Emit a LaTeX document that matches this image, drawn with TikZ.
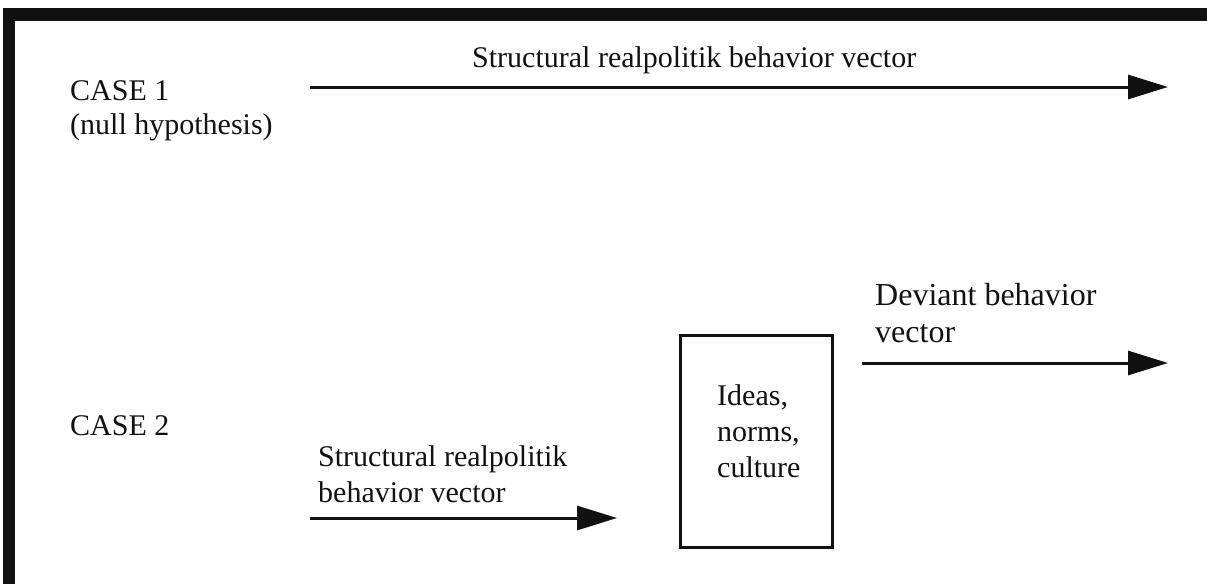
\documentclass[tikz,border=0pt]{standalone}
\usepackage{fontspec}
\setmainfont{Liberation Serif}
\usetikzlibrary{arrows.meta}
\definecolor{ink}{HTML}{111111}
\tikzset{
  label/.style={anchor=base west, inner sep=0pt, font=\fontsize{30}{36}\selectfont, text=ink, align=left},
  vector/.style={draw=ink, line width=3pt, -{Triangle[length=40pt,width=24pt]}},
  factorbox/.style={draw=ink, line width=3pt, minimum width=152pt, minimum height=212pt, inner sep=0pt}
}
\begin{document}
\begin{tikzpicture}[x=1pt, y=-1pt]
  \useasboundingbox (0,0) rectangle (1207,584);
  % frame bars along the top and left edges
  \fill[ink] (3,8) rectangle (1207,21);
  \fill[ink] (3,8) rectangle (15,584);

  % case labels
  \node[label] (case1) at (70,100) {CASE 1};
  \node[label] (null) at (70,134) {(null hypothesis)};
  \node[label] (case2) at (70,435) {CASE 2};

  % case 1: the structural vector runs straight through
  \coordinate (s1) at (310,87);
  \coordinate (e1) at (1168,87);
  \draw[vector] (s1) -- (e1);
  \node[label] (lab1) at (472,67) {Structural realpolitik behavior vector};

  % case 2: the structural vector meets the ideational filter
  % (multi-line labels are placed by the baseline of their last line)
  \coordinate (s2) at (310,518);
  \coordinate (e2) at (617,518);
  \draw[vector] (s2) -- (e2);
  \node[label] (lab2) at (318,502) {Structural realpolitik\\behavior vector};

  \node[factorbox] (ideas) at (756.5,441.5) {};
  \node[label] (ideastext) at (717,477) {Ideas,\\norms,\\culture};

  \coordinate (s3) at (862,363);
  \coordinate (e3) at (1168,363);
  \draw[vector] (s3) -- (e3);
  \node[label, font=\fontsize{32}{37}\selectfont] (lab3) at (875,342) {Deviant behavior\\vector};
\end{tikzpicture}
\end{document}
